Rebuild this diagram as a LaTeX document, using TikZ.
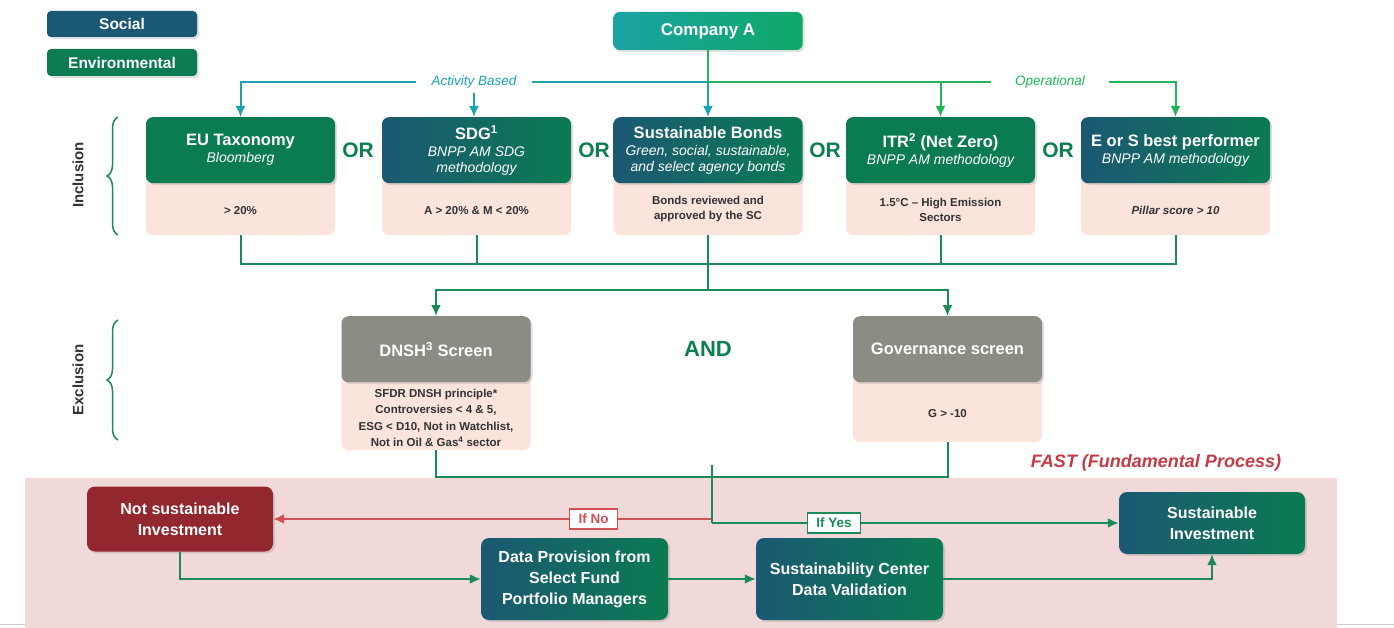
\documentclass[tikz,border=0pt]{standalone}
\usepackage{fontspec}
\setmainfont{Liberation Sans}
\usetikzlibrary{arrows.meta,shadows,decorations.pathreplacing,calc}
\definecolor{socb}{HTML}{1B5873}
\definecolor{envg}{HTML}{0B7B52}
\definecolor{pinkc}{HTML}{FBE4DC}
\definecolor{grayh}{HTML}{8C8C84}
\definecolor{darkred}{HTML}{92282E}
\definecolor{bandc}{HTML}{F1D9DA}
\definecolor{fastred}{HTML}{C43A45}
\definecolor{orgreen}{HTML}{0D7F4E}
\definecolor{tealc}{HTML}{1AA3B0}
\definecolor{lgreen}{HTML}{22B45A}
\definecolor{gline}{HTML}{1A8A5A}
\definecolor{rline}{HTML}{D05055}
\definecolor{critc}{HTML}{333333}
\definecolor{caL}{HTML}{1AA2A3}
\definecolor{caR}{HTML}{10A867}
\newcommand{\subt}{\mdseries\itshape\fontsize{14}{17}\selectfont}
\begin{document}
\begin{tikzpicture}[x=1pt,y=-1pt,
  shad/.style={drop shadow={opacity=0.25,shadow xshift=2pt,shadow yshift=-2pt}},
  hdr/.style={rounded corners=7pt, text=white, align=center, minimum width=189pt,
    minimum height=66pt, inner sep=2pt, anchor=north, shad,
    font=\bfseries\fontsize{16.5}{18}\selectfont},
  envhdr/.style={hdr, fill=envg},
  sochdr/.style={hdr, left color=socb, right color=envg},
  grayhdr/.style={hdr, fill=grayh},
  pinkbox/.style={fill=pinkc, rounded corners=7pt, minimum width=189pt, anchor=north, inner sep=0pt},
  crit/.style={font=\bfseries\fontsize{11.5}{15}\selectfont, text=critc, align=center},
  legend/.style={rounded corners=4pt, text=white, minimum width=150pt, minimum height=26pt,
    inner sep=0pt, shad, font=\bfseries\fontsize{15.5}{17}\selectfont},
  orl/.style={text=orgreen, font=\bfseries\fontsize{21}{23}\selectfont},
  lbl/.style={font=\itshape\fontsize{13.5}{15}\selectfont, inner ysep=5pt},
  side/.style={rotate=90, text=critc, font=\bfseries\fontsize{15}{17}\selectfont},
  brc/.style={draw=gline, line width=1.5pt, decorate, decoration={brace, amplitude=11pt}},
  tl/.style={draw=tealc, line width=2pt},
  lgl/.style={draw=lgreen, line width=2pt},
  gl/.style={draw=gline, line width=2pt},
  rl/.style={draw=rline, line width=2pt},
  arr/.style={-{Latex[length=11pt,width=10pt]}},
  bbox/.style={rounded corners=8pt, text=white, align=center, inner sep=2pt, shad,
    font=\bfseries\fontsize{16}{21}\selectfont},
  gradbox/.style={bbox, left color=socb, right color=envg},
  iflbl/.style={fill=white, line width=1.2pt, inner xsep=9pt, inner ysep=5pt,
    font=\bfseries\fontsize{13.5}{15}\selectfont}
]
\useasboundingbox (0,0) rectangle (1394,628);

% legend
\node[legend, fill=socb] (leg1) at (122,24) {Social};
\node[legend, fill=envg, minimum height=27pt] (leg2) at (122,62.5) {Environmental};

% company
\node[rounded corners=6pt, left color=caL, right color=caR, text=white, minimum width=189pt,
  minimum height=38pt, shad, font=\bfseries\fontsize{17}{19}\selectfont] (ca) at (708,31) {Company A};

% inclusion row: pink bodies
\node[pinkbox, minimum height=118pt] (euP) at (240.5,117) {};
\node[pinkbox, minimum height=118pt] (sdgP) at (476.5,117) {};
\node[pinkbox, minimum height=118pt] (sbP) at (708,117) {};
\node[pinkbox, minimum height=118pt] (itrP) at (940.5,117) {};
\node[pinkbox, minimum height=118pt] (esP) at (1175.5,117) {};

\node[envhdr] (eu) at (240.5,117) {EU Taxonomy\\[-1pt]{\subt Bloomberg}};
\node[sochdr] (sdg) at (476.5,117) {SDG\textsuperscript{1}\\[-1pt]{\subt BNPP AM SDG}\\[-2pt]{\subt methodology}};
\node[sochdr] (sb) at (708,117) {Sustainable Bonds\\[-1pt]{\subt Green, social, sustainable,}\\[-2pt]{\subt and select agency bonds}};
\node[envhdr] (itr) at (940.5,117) {ITR\textsuperscript{2} (Net Zero)\\[-1pt]{\subt BNPP AM methodology}};
\node[sochdr] (es) at (1175.5,117) {E or S best performer\\[-1pt]{\subt BNPP AM methodology}};

\node[crit] (euC) at (240.5,211) {> 20\%};
\node[crit] (sdgC) at (476.5,211) {A > 20\% \& M < 20\%};
\node[crit] (sbC) at (708,209) {Bonds reviewed and\\approved by the SC};
\node[crit] (itrC) at (940.5,210) {1.5°C – High Emission\\Sectors};
\node[crit, font=\bfseries\itshape\fontsize{11.5}{15}\selectfont] (esC) at (1175.5,210) {Pillar score > 10};

\node[orl] (or1) at (358,150) {OR};
\node[orl] (or2) at (594,150) {OR};
\node[orl] (or3) at (825,150) {OR};
\node[orl] (or4) at (1058,150) {OR};

% top connectors
\coordinate (j1) at (708,82);
\node[lbl, text=tealc, inner xsep=15pt] (act) at (474,82) {Activity Based};
\node[lbl, text=lgreen, inner xsep=24pt] (opl) at (1050,82) {Operational};
\draw[tl] (j1) -- (act.east);
\draw[tl, arr] (act.west) -| (eu.north);
\draw[tl, arr] (act.south) -- (act.south |- sdg.north);
\draw[lgl] (j1) -- (opl.west);
\draw[lgl, arr] (opl.east) -| (es.north);
\draw[lgl, arr] (j1 -| itr.north) -- (itr.north);
\draw[tl, arr] (j1) -- (sb.north);
\draw[lgl] (ca.south) -- (j1);

% bus
\coordinate (bus) at (708,264);
\coordinate (j3) at (708,290);
\draw[gl] (euP.south) -- (euP.south |- bus) -- (esP.south |- bus) -- (esP.south);
\foreach \n in {sdgP, sbP, itrP} \draw[gl] (\n.south) -- (\n.south |- bus);
\draw[gl] (bus) -- (j3);

% exclusion row
\node[pinkbox, minimum height=134pt] (dnP) at (436,316) {};
\node[pinkbox, minimum height=126pt] (govP) at (947.5,316) {};
\node[grayhdr] (dn) at (436,316) {DNSH\textsuperscript{3} Screen};
\node[grayhdr] (gov) at (947.5,316) {Governance screen};
\node[crit, font=\bfseries\fontsize{11.5}{16.5}\selectfont] (dnC) at (436,418) {SFDR DNSH principle*\\Controversies < 4 \& 5,\\ESG < D10, Not in Watchlist,\\Not in Oil \& Gas\textsuperscript{4} sector};
\node[crit] (govC) at (947.5,414) {G > -10};
\node[orl, font=\bfseries\fontsize{22}{24}\selectfont] (and) at (708,349) {AND};
\draw[gl, arr] (j3) -| (dn.north);
\draw[gl, arr] (j3) -| (gov.north);

% braces and side labels
\draw[brc] (118,235) -- (118,117);
\draw[brc] (118,440) -- (118,320);
\node[side] (inc) at (78,175) {Inclusion};
\node[side] (exc) at (78,380) {Exclusion};

% FAST band
\node[fill=bandc, minimum width=1312pt, minimum height=150pt, inner sep=0pt, anchor=north west] (band) at (25,478) {};
\draw[black!20, line width=0.8pt] (0,624) -- (band.south west |- 0,624);
\draw[black!20, line width=0.8pt] (band.south east |- 0,624) -- (1394,624);
\node[text=fastred, font=\bfseries\itshape\fontsize{18}{20}\selectfont] (fast) at (1156,463) {FAST (Fundamental Process)};

\node[bbox, fill=darkred, minimum width=186pt, minimum height=65pt] (notS) at (180,519) {Not sustainable\\Investment};
\node[gradbox, minimum width=187pt, minimum height=82pt] (dp) at (574.5,579) {Data Provision from\\Select Fund\\Portfolio Managers};
\node[gradbox, minimum width=187pt, minimum height=82pt] (sc) at (849.5,579) {Sustainability Center\\Data Validation};
\node[gradbox, minimum width=186pt, minimum height=62pt] (susI) at (1212,523) {Sustainable\\Investment};

% connectors from screens
\coordinate (vtop) at (712,465);
\coordinate (vbot) at (712,523);
\coordinate (rj) at (712,519);
\draw[gl] (dnP.south) -- (dnP.south |- 0,477) -| (govP.south);
\draw[rl, arr] (rj) -- node[pos=0.27, iflbl, draw=rline, text=rline] (ifno) {If No} (notS.east);
\draw[gl] (vtop) -- (vbot);
\draw[gl, arr] (vbot) -- node[pos=0.30, iflbl, draw=gline, text=gline] (ifyes) {If Yes} (susI.west);
\draw[gl, arr] (notS.south) |- (dp.west);
\draw[gl, arr] (dp.east) -- (sc.west);
\draw[gl, arr] (sc.east) -| (susI.south);
\end{tikzpicture}
\end{document}
